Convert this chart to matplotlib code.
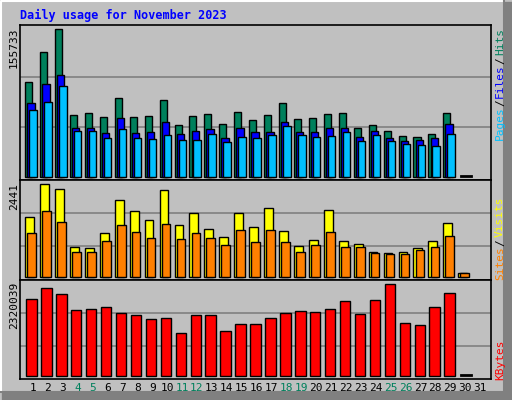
import numpy as np
import matplotlib
matplotlib.use("Agg")
import matplotlib.pyplot as plt

days = np.arange(1, 32)
weekend = [4, 5, 11, 12, 18, 19, 25, 26]

hits = [99700, 131400, 155733, 64900, 67000, 62800, 82800, 62800, 63800, 80700,
        54300, 63800, 65900, 55400, 68000, 59600, 64900, 77500, 60600, 61700,
        65900, 67000, 51100, 54300, 48000, 42700, 41600, 44800, 67000, 0]
files = [77500, 97600, 107100, 51100, 51100, 45900, 61700, 45900, 46900, 57500,
         44800, 48000, 50100, 40600, 51100, 46900, 46900, 57500, 46900, 46900,
         51100, 51100, 41600, 48000, 40600, 37400, 38500, 40600, 55400, 0]
pages = [70200, 78600, 95500, 48000, 48000, 40600, 50100, 40600, 39500, 43700,
         38500, 38500, 44800, 36300, 41600, 40600, 43700, 53200, 43700, 41600,
         42700, 46900, 37400, 43700, 37400, 34200, 33200, 32100, 44800, 0]
sites = [1568, 2441, 2309, 775, 749, 1146, 2018, 1727, 1489, 2282,
         1357, 1674, 1251, 1040, 1674, 1304, 1806, 1198, 802, 960,
         1754, 934, 855, 643, 617, 643, 749, 934, 1410, 88]
visits = [1146, 1727, 1436, 643, 643, 934, 1357, 1172, 1013, 1383,
          987, 1146, 1013, 828, 1225, 907, 1225, 907, 643, 828,
          1172, 775, 775, 617, 590, 590, 696, 775, 1066, 88]
kbytes = [1939000, 2218000, 2066000, 1660000, 1685000, 1736000, 1583000, 1533000, 1431000, 1456000,
          1075000, 1533000, 1533000, 1126000, 1304000, 1304000, 1456000, 1583000, 1634000, 1609000,
          1685000, 1888000, 1558000, 1914000, 2320039, 1329000, 1279000, 1736000, 2091000, 0]

W, H = 512, 400
BG = "#C0C0C0"
MONO = "DejaVu Sans Mono"

fig = plt.figure(figsize=(W / 100, H / 100), dpi=100, facecolor=BG)

# outer bevel
fig.add_artist(plt.Line2D([1 / W, 1 / W, 1 - 8 / W], [8 / H, 1 - 1 / H, 1 - 1 / H], color="white", lw=1.5))
fig.add_artist(plt.Line2D([1 / W, 1 - 8 / W, 1 - 8 / W], [8 / H, 8 / H, 1 - 1 / H], color="#808080", lw=1.5))
fig.add_artist(plt.Line2D([1 - 4 / W] * 2, [4 / H, 1 - 6 / H], color="#808080", lw=6))
fig.add_artist(plt.Line2D([6 / W, 1 - 4 / W], [4 / H] * 2, color="#808080", lw=6))


def panel(top, bottom):
    ax = fig.add_axes([20 / W, 1 - bottom / H, 471 / W, (bottom - top) / H])
    ax.set_facecolor(BG)
    ax.set_xlim(0.133, 31.67)
    ax.set_xticks([])
    ax.set_yticks([])
    for s in ax.spines.values():
        s.set_color("black")
        s.set_linewidth(1.2)
    return ax


def bars(ax, vals, lo, hi, color):
    x = days[:len(vals)]
    v = np.array(vals)
    ax.bar(x + (lo + hi) / 2, v, width=hi - lo, color=color, edgecolor="black", linewidth=1, zorder=3)


def zero_marks(ax, vals, ymax):
    for d, v in zip(days, vals):
        if v == 0:
            ax.plot([d - 0.35, d + 0.35], [ymax * 0.005] * 2, color="black", lw=2, zorder=4)


# top panel
ax1 = panel(25, 180)
ax1.set_ylim(-3500, 160300)
for g in (52190, 105650):
    ax1.axhline(g, color="#808080", lw=1.2, zorder=1)
bars(ax1, hits[:29], -0.52, -0.05, "#00805C")
bars(ax1, files[:29], -0.38, 0.11, "#0000FF")
bars(ax1, pages[:29], -0.25, 0.25, "#00C0FF")
zero_marks(ax1, hits, 160300)

# middle panel
ax2 = panel(180, 280)
ax2.set_ylim(-87, 2536)
for g in (803, 1675):
    ax2.axhline(g, color="#808080", lw=1.2, zorder=1)
bars(ax2, sites, -0.52, 0.07, "#FFFF00")
bars(ax2, visits, -0.38, 0.2, "#FF8000")

# bottom panel
ax3 = panel(280, 378.7)
ax3.set_ylim(-76000, 2432000)
for g in (762000, 1585000):
    ax3.axhline(g, color="#808080", lw=1.2, zorder=1)
bars(ax3, kbytes[:29], -0.45, 0.25, "#FF0000")
zero_marks(ax3, kbytes, 2432000)

# day labels
for d in days:
    x = (33 + (d - 1) * 14.9) / W
    fig.text(x, 1 - 388 / H, str(d), ha="center", va="center", fontsize=8, family=MONO,
             color="#00805C" if d in weekend else "black")

# title
fig.text(20 / W, 1 - 15 / H, "Daily usage for November 2023", fontsize=8.5, family=MONO,
         fontweight="bold", color="#0000FF", va="center")

# left max labels
for y, s in ((28, "155733"), (183, "2441"), (282, "2320039")):
    fig.text(14 / W, 1 - y / H, s, rotation=90, ha="center", va="top", fontsize=8, family=MONO)

# right legend labels
for y, s, c in ((28, "Hits", "#00805C"), (57, "/", "black"), (64, "Files", "#0000FF"),
                (99, "/", "black"), (106, "Pages", "#00C0FF"),
                (197, "Visits", "#FFFF00"), (239, "/", "black"), (246, "Sites", "#FF8000"),
                (340, "KBytes", "#FF0000")):
    fig.text(500 / W, 1 - y / H, s, rotation=90, ha="center", va="top", fontsize=8,
             family=MONO, color=c)

fig.savefig("out.png", dpi=100, facecolor=BG)
